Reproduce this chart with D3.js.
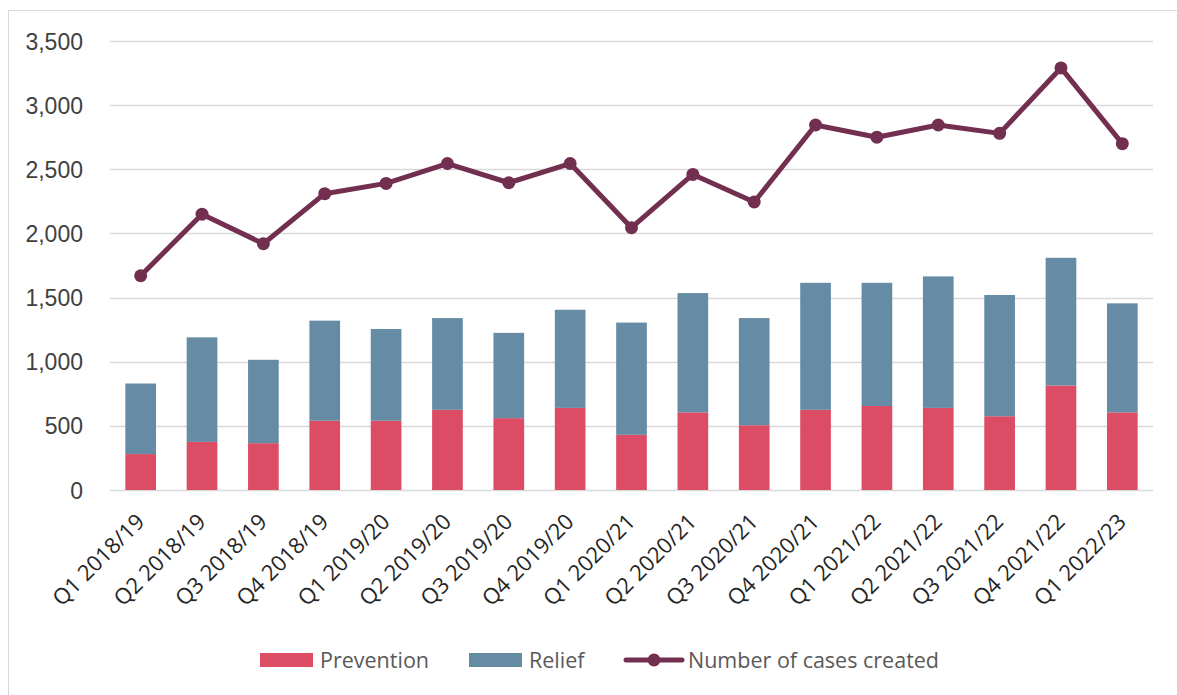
<!DOCTYPE html>
<html>
<head>
<meta charset="utf-8">
<script src="https://cdn.jsdelivr.net/npm/d3@7"></script>
<style>
  body { margin: 0; background: #fff; }
  svg { display: block; }
</style>
</head>
<body>
<div id="chart"></div>
<script>
// categories (quarters)
const quarters = ["Q1 2018/19", "Q2 2018/19", "Q3 2018/19", "Q4 2018/19",
    "Q1 2019/20", "Q2 2019/20", "Q3 2019/20", "Q4 2019/20",
    "Q1 2020/21", "Q2 2020/21", "Q3 2020/21", "Q4 2020/21",
    "Q1 2021/22", "Q2 2021/22", "Q3 2021/22", "Q4 2021/22",
    "Q1 2022/23"];
// stacked bar series
const prevention = [280, 375, 365, 540, 540, 625, 560, 640, 430, 605, 505, 625, 655, 640, 575, 815, 605];
const relief = [550, 815, 650, 780, 715, 715, 665, 765, 875, 930, 835, 990, 960, 1025, 945, 995, 850];
// line series
const casesCreated = [1670, 2150, 1920, 2310, 2390, 2545, 2395, 2545, 2045, 2460, 2245, 2845, 2750, 2845, 2780, 3290, 2700];
const yTicks = [0, 500, 1000, 1500, 2000, 2500, 3000, 3500];

const width = 1177;
const height = 695;
const margin = { top: 41, right: 24, bottom: 205, left: 110 };

const svg = d3.select("#chart")
    .append("svg")
    .attr("width", width)
    .attr("height", height);

// outer chart border (only top/left visible, rest cropped)
svg.append("rect")
    .attr("x", 8.5)
    .attr("y", 10.5)
    .attr("width", width + 20)
    .attr("height", height + 20)
    .attr("fill", "none")
    .attr("stroke", "#d9d9d9");

const xScale = d3.scaleBand()
    .domain(quarters)
    .range([margin.left, width - margin.right])
    .paddingInner(0.5)
    .paddingOuter(0.25);

const yScale = d3.scaleLinear()
    .domain([0, 3500])
    .range([height - margin.bottom, margin.top]);

// gridlines
svg.append("g")
    .selectAll("line")
    .data(yTicks)
    .enter()
    .append("line")
    .attr("x1", margin.left)
    .attr("x2", width - margin.right)
    .attr("y1", d => Math.round(yScale(d)) + 0.5)
    .attr("y2", d => Math.round(yScale(d)) + 0.5)
    .attr("stroke", "#d9d9d9")
    .attr("stroke-width", 1.5);

// y axis labels
const yAxis = svg.append("g")
    .attr("transform", `translate(${margin.left - 24}, 0)`)
    .call(d3.axisLeft(yScale).tickValues(yTicks).tickSize(0).tickFormat(d3.format(",")));
yAxis.select(".domain").remove();
yAxis.selectAll("text")
    .attr("font-family", "'Liberation Sans', Arial, sans-serif")
    .attr("font-size", 23)
    .attr("fill", "#404040")
    .attr("dy", "0.35em");

// stacked bars
const rows = quarters.map((q, i) => ({ quarter: q, Prevention: prevention[i], Relief: relief[i] }));
const stack = d3.stack().keys(["Prevention", "Relief"])(rows);
const colors = { Prevention: "#dc4c64", Relief: "#668ba4" };

svg.append("g")
    .selectAll("g")
    .data(stack)
    .enter()
    .append("g")
    .attr("fill", d => colors[d.key])
    .selectAll("rect")
    .data(d => d)
    .enter()
    .append("rect")
    .attr("x", d => xScale(d.data.quarter))
    .attr("y", d => yScale(d[1]))
    .attr("width", xScale.bandwidth())
    .attr("height", d => yScale(d[0]) - yScale(d[1]));

// line: Number of cases created
const lineColor = "#722f50";
const line = d3.line()
    .x((d, i) => xScale(quarters[i]) + xScale.bandwidth() / 2)
    .y(d => yScale(d));

svg.append("path")
    .datum(casesCreated)
    .attr("fill", "none")
    .attr("stroke", lineColor)
    .attr("stroke-width", 5)
    .attr("stroke-linejoin", "round")
    .attr("d", line);

svg.append("g")
    .selectAll("circle")
    .data(casesCreated)
    .enter()
    .append("circle")
    .attr("cx", (d, i) => xScale(quarters[i]) + xScale.bandwidth() / 2)
    .attr("cy", d => yScale(d))
    .attr("r", 6.5)
    .attr("fill", lineColor);

// x axis labels (rotated)
const xAxis = svg.append("g")
    .attr("transform", `translate(0, ${height - margin.bottom})`)
    .call(d3.axisBottom(xScale).tickSize(0));
xAxis.select(".domain").remove();
xAxis.selectAll("text")
    .attr("font-family", "'Open Sans', sans-serif")
    .attr("font-size", 22)
    .attr("fill", "#262626")
    .attr("text-anchor", "end")
    .attr("dy", 0)
    .attr("transform", "translate(3, 31) rotate(-45)");

// legend
const legend = svg.append("g")
    .attr("font-family", "'Open Sans', sans-serif")
    .attr("font-size", 21.5)
    .attr("fill", "#595959");

const legendItems = [
    { name: "Prevention", type: "bar", color: colors.Prevention, x: 260 },
    { name: "Relief", type: "bar", color: colors.Relief, x: 469 },
    { name: "Number of cases created", type: "line", color: lineColor, x: 626 }
];
const legendY = 660;

legendItems.forEach(item => {
    if (item.type === "bar") {
        legend.append("rect")
            .attr("x", item.x)
            .attr("y", legendY - 7)
            .attr("width", 53)
            .attr("height", 14)
            .attr("fill", item.color);
    } else {
        legend.append("line")
            .attr("x1", item.x)
            .attr("x2", item.x + 56)
            .attr("y1", legendY)
            .attr("y2", legendY)
            .attr("stroke", item.color)
            .attr("stroke-width", 5)
            .attr("stroke-linecap", "round");
        legend.append("circle")
            .attr("cx", item.x + 28)
            .attr("cy", legendY)
            .attr("r", 6.5)
            .attr("fill", item.color);
    }
    legend.append("text")
        .attr("x", item.type === "bar" ? item.x + 60 : item.x + 62)
        .attr("y", legendY)
        .attr("dy", "0.35em")
        .text(item.name);
});
</script>
</body>
</html>
